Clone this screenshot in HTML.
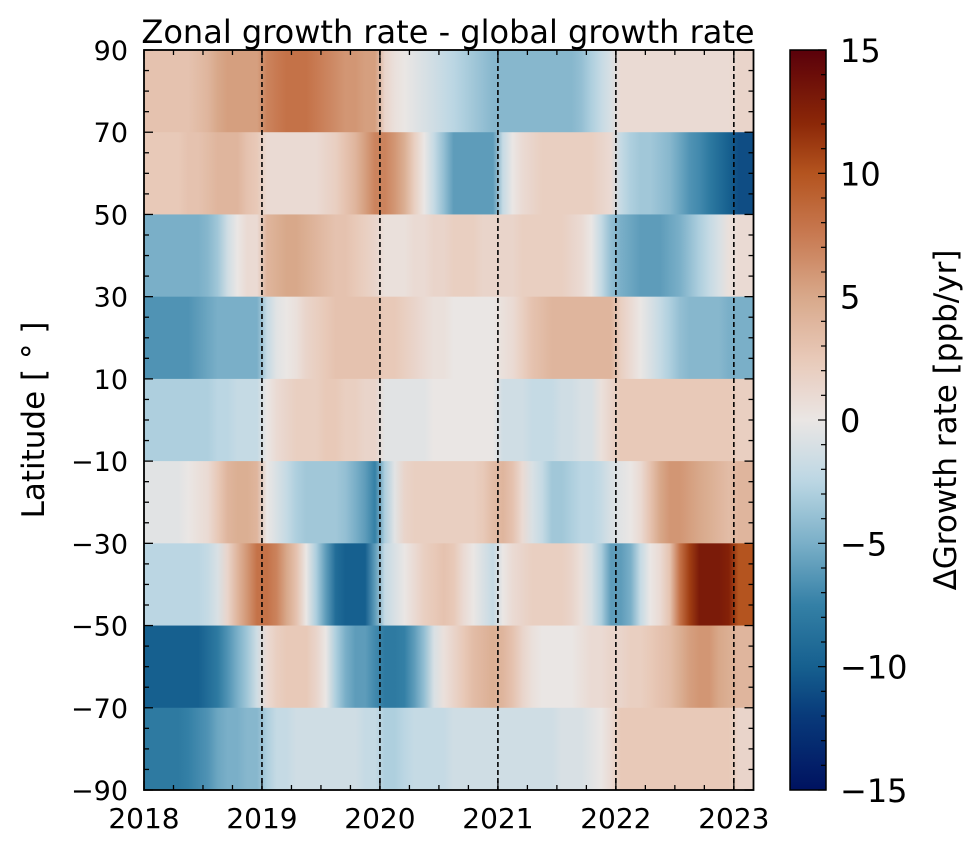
<!DOCTYPE html>
<html><head><meta charset="utf-8"><style>
html,body{margin:0;padding:0;background:#fff;}
svg{display:block;font-family:"DejaVu Sans","Liberation Sans",sans-serif;}
</style></head><body>
<svg id="chart" width="980" height="846" viewBox="0 0 980 846" xmlns="http://www.w3.org/2000/svg">
<defs id="defs"></defs>
<g id="cells"></g>
<g id="axes"></g>
</svg>
<script>
// ---- data ----
const startYear = 2018;
const nMonths = 62;
const latEdges = [90,70,50,30,10,-10,-30,-50,-70,-90];
const yTicks = [90,70,50,30,10,-10,-30,-50,-70,-90];
const xTicks = [2018,2019,2020,2021,2022,2023];
const yearLines = [2019,2020,2021,2022,2023];
const cbTicks = [15,10,5,0,-5,-10,-15];
const row80 = [3,3,3,3,3,3.5,4,5,5.5,5.5,5.5,5.5, 7,7.5,8,8,8,7.5,7,6.5,6,6,5.5,5.5, 1.5,0.5,0,-0.5,-1,-1.5,-2,-2.5,-3,-3.5,-4,-4.5, -4.5,-4.5,-4.5,-4.5,-4.5,-4.5,-4.5,-4.5,-4,-3,-2,-1, 1,1,1,1,1,1,1,1,1,1,1,1, 1.5,1.5];
const row60 = [2.5,2.5,2.5,2.5,3,3,3.5,4,4,4,3,2.5, 1,1,1,1,1,1,1.5,2,3,4,5.5,7, 7,6,4.5,2,0,-2,-4,-6,-6,-6,-6,-6, -2,0,1,1.5,2,2,2,2,2,2,1.5,1, -2,-3,-3.5,-3.5,-4,-4.5,-5.5,-6.5,-7,-8,-9,-10, -11,-11];
const row40 = [-5,-5,-5,-5,-5,-5,-4.5,-3.5,-1.5,0,1,1, 4,4.5,5,5,4.5,4,3.5,3,3,2.5,2,1.5, 0.5,0.5,0.5,1,1,1.5,1.5,2,2,2,1.5,1.5, 1.5,1.5,2,2,2,2,2,1.5,1,0,-2,-4, -5,-5.5,-6,-6,-6,-5.5,-5,-4,-3,-2,-1,0.5, 1,1];
const row20 = [-6.5,-6.5,-6.5,-6.5,-6.5,-6,-5.5,-5,-5,-5,-5,-5, -2,-0.5,0,0.5,1.5,2,2.5,3,3,3,3,3, 2.5,2.5,2,1.5,1,0.5,0.5,0,0,0,0,0, 0.5,1,2,3,3.5,4,4,4,4,4,4,4, 2,1,0,-1,-2,-3,-4,-4.5,-4.5,-4.5,-4.5,-5, -5,-5];
const row0 = [-3,-3,-3,-3,-3,-3,-3,-2.5,-2.5,-2,-2,-2, 0,1,1.5,2,2,2,2.5,2.5,2,2,1.5,1.5, -0.5,-0.5,-0.5,-0.5,-0.5,0,0,0,0,0,0,0, -1.5,-1.5,-1.5,-2,-2,-2,-1.5,-1.5,-1,-1,0.5,1.5, 2.5,2.5,2.5,2.5,2.5,2.5,2.5,2.5,2.5,2.5,2.5,2.5, 2,2];
const rowM20 = [-0.5,-0.5,-0.5,-0.5,0,0.5,1,2.5,4,4.5,4.5,4, 0,-1,-2,-3,-3.5,-3.5,-3.5,-3.5,-4,-5,-6,-7.5, -3,-0.5,1.5,2,2,2,2,2,2,2,2.5,3.5, 4,3,1,-1,-2,-3.5,-3.5,-3,-2.5,-2.5,-2,-1, -0.5,0,1,3,5,6,6,5.5,5,4.5,4,3.5, 4,4];
const rowM40 = [-2.5,-2.5,-2.5,-2.5,-2.5,-2.5,-2,-1,1.5,4,6,8, 8,7,5,3,0,-3,-6,-9,-10,-10,-10,-6, -2,-1,0,1,2,2.5,3,2.5,1,0,-1,-2, 0,1,1.5,2,2,2,2,1.5,0.5,-1,-3,-6, -6,-5,-2,0,1,3,8,11,13,13,13,12.5, 10,10];
const rowM60 = [-10,-10,-10,-10,-10,-10,-9,-8,-6.5,-5,-3.5,-1.5, 1,2,2.5,2.5,2.5,1.5,0,-3,-5,-6,-6,-7, -8,-8,-7.5,-6,-4,-1,0.5,1.5,2.5,3.5,4,4.5, 4,3,1.5,0.5,0,0,0,0,0.5,1,1,1.5, 1.5,2,2,2.5,3,3.5,4.5,5.5,6,6,5,4.5, 4,4];
const rowM80 = [-8,-8,-8,-8,-7.5,-7,-6.5,-5.5,-5,-5,-4.5,-4.5, -3,-2,-2,-1.5,-1.5,-1.5,-1.5,-1.5,-1.5,-1.5,-2,-2, -3,-3,-2.5,-2,-2,-2,-2,-1.5,-1.5,-1.5,-1.5,-1.5, -1.5,-1.5,-1.5,-1.5,-1.5,-1.5,-1,-1,-1,-0.5,0,1, 2.5,2.5,2.5,2.5,2.5,2.5,2.5,2.5,2.5,2.5,2.5,2.5, 1.5,1.5];
const rows = [row80,row60,row40,row20,row0,rowM20,rowM40,rowM60,rowM80];

// ---- geometry ----
const X0=144, X1=753.5, Y0=50, Y1=790;
const tEnd = startYear + nMonths/12;
const xs = t => X0 + (t-startYear)/(tEnd-startYear)*(X1-X0);
const ys = lat => Y0 + (90-lat)/180*(Y1-Y0);
const CB0=790, CB1=826;
const cy = v => Y0 + (15-v)/30*(Y1-Y0);

// vik-like colormap
const cmap = [[0,[0,18,96]],[0.1,[8,58,122]],[0.167,[22,96,143]],[0.25,[52,128,166]],[0.333,[122,175,200]],[0.42,[190,216,228]],[0.5,[234,230,228]],[0.58,[233,202,186]],[0.667,[216,168,138]],[0.75,[200,122,82]],[0.833,[180,84,31]],[0.9,[140,40,8]],[1,[90,0,10]]];
function color(v){
  let f=(v+15)/30; f=Math.max(0,Math.min(1,f));
  for(let i=1;i<cmap.length;i++){
    if(f<=cmap[i][0]){
      const a=cmap[i-1],b=cmap[i],u=(f-a[0])/(b[0]-a[0]);
      const c=a[1].map((x,k)=>Math.round(x+(b[1][k]-x)*u));
      return `rgb(${c[0]},${c[1]},${c[2]})`;
    }
  }
  return 'rgb(90,0,10)';
}
const NS='http://www.w3.org/2000/svg';
function mk(tag,attrs,parent){const e=document.createElementNS(NS,tag);for(const k in attrs)e.setAttribute(k,attrs[k]);parent.appendChild(e);return e;}
const defs=document.getElementById('defs'), cells=document.getElementById('cells'), axes=document.getElementById('axes');

rows.forEach((vals,r)=>{
  const g=mk('linearGradient',{id:'g'+r,gradientUnits:'userSpaceOnUse',x1:X0,y1:0,x2:X1,y2:0},defs);
  vals.forEach((v,m)=>{
    mk('stop',{offset:(m+0.5)/nMonths,'stop-color':color(v)},g);
  });
  const yTop=ys(latEdges[r]), yBot=ys(latEdges[r+1]);
  const rect=mk('rect',{x:X0,y:yTop,width:X1-X0,height:yBot-yTop+0.5,fill:'url(#g'+r+')'},cells);
  
  
});

yearLines.forEach(yr=>{
  const l=mk('line',{x1:xs(yr),x2:xs(yr),y1:Y0,y2:Y1,stroke:'#000','stroke-width':1.6,'stroke-dasharray':'5,3'},axes);
  
  
});

const fr=mk('rect',{x:X0,y:Y0,width:X1-X0,height:Y1-Y0,fill:'none',stroke:'#000','stroke-width':1.8},axes);



for(let q=0;q<=nMonths/3;q++){
  const x=xs(startYear+q/4), major=q%4===0, L=major?9:5;
  mk('line',{x1:x,x2:x,y1:Y1,y2:Y1-L,stroke:'#000','stroke-width':1.3},axes);
  mk('line',{x1:x,x2:x,y1:Y0,y2:Y0+L,stroke:'#000','stroke-width':1.3},axes);
}
xTicks.forEach(t=>{
  const tx=mk('text',{x:xs(t),y:Y1+38,'font-size':28,'text-anchor':'middle'},axes);
  tx.textContent=t;
  
  
});
for(let lat=-90;lat<=90;lat+=5){
  const y=ys(lat), major=(lat+90)%20===0, L=major?9:5;
  mk('line',{x1:X0,x2:X0+L,y1:y,y2:y,stroke:'#000','stroke-width':1.3},axes);
  mk('line',{x1:X1,x2:X1-L,y1:y,y2:y,stroke:'#000','stroke-width':1.3},axes);
}
yTicks.forEach(t=>{
  const tx=mk('text',{x:X0-16,y:ys(t)+10,'font-size':27,'text-anchor':'end'},axes);
  tx.textContent=t<0?'\u2212'+(-t):t;
  
  
});

const title=mk('text',{x:448,y:43,'font-size':32,'text-anchor':'middle'},axes);
title.textContent='Zonal growth rate - global growth rate';


const yl=mk('text',{x:0,y:0,'font-size':31,'text-anchor':'middle',transform:'translate(44,420) rotate(-90)'},axes);
yl.textContent='Latitude [ \u00B0 ]';



const cg=mk('linearGradient',{id:'cbg',x1:0,y1:1,x2:0,y2:0},defs);
for(let i=0;i<=60;i++){mk('stop',{offset:i/60,'stop-color':color(-15+i/2)},cg);}
const cb=mk('rect',{x:CB0,y:Y0,width:CB1-CB0,height:Y1-Y0,fill:'url(#cbg)',stroke:'#000','stroke-width':1.5},axes);


for(let v=-15;v<=15;v++){
  const L=v%5===0?8:5;
  mk('line',{x1:CB1,x2:CB1-L,y1:cy(v),y2:cy(v),stroke:'#000','stroke-width':1.2},axes);
}
cbTicks.forEach(t=>{
  const tx=mk('text',{x:CB1+14,y:cy(t)+12,'font-size':32,'text-anchor':'start'},axes);
  tx.textContent=t<0?'\u2212'+(-t):t;
  
  
});
const cl=mk('text',{x:0,y:0,'font-size':31,'text-anchor':'middle',transform:'translate(956,420) rotate(-90)'},axes);
cl.textContent='\u0394Growth rate [ppb/yr]';


</script>
</body></html>
